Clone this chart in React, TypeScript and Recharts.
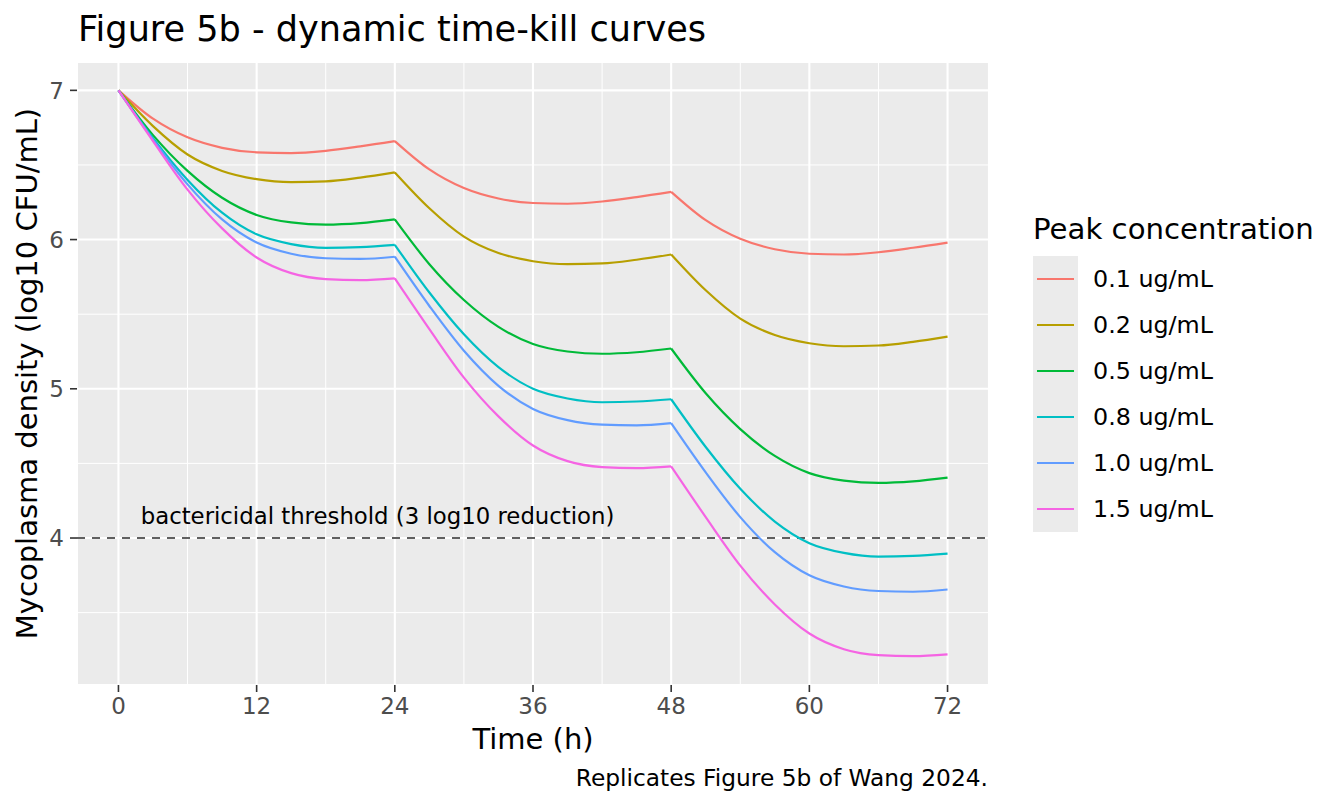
import {
  CartesianGrid,
  Legend,
  Line,
  LineChart,
  ReferenceDot,
  ReferenceLine,
  XAxis,
  YAxis
} from "recharts";

const FONT = "'DejaVu Sans', Verdana, sans-serif";

// hours after first dose, dosing every 24 h
const HOURS = [0, 3, 6, 9, 12, 15, 18, 21, 24, 27, 30, 33, 36, 39, 42, 45, 48, 51, 54, 57, 60, 63, 66, 69, 72];
const DOSE_TIMES = [0, 24, 48];
const DOSE_INTERVAL = 24;

// log10 CFU/mL
const CONC_01 = [7, 6.81, 6.685, 6.615, 6.585, 6.58, 6.595, 6.625, 6.66, 6.47, 6.345, 6.275, 6.245, 6.24, 6.255, 6.285, 6.32, 6.13, 6.005, 5.935, 5.905, 5.9, 5.915, 5.945, 5.98];
const CONC_02 = [7, 6.76, 6.57, 6.46, 6.405, 6.385, 6.39, 6.415, 6.45, 6.21, 6.02, 5.91, 5.855, 5.835, 5.84, 5.865, 5.9, 5.66, 5.47, 5.36, 5.305, 5.285, 5.29, 5.315, 5.35];
const CONC_05 = [7, 6.7, 6.46, 6.28, 6.165, 6.115, 6.1, 6.11, 6.135, 5.835, 5.595, 5.415, 5.3, 5.25, 5.235, 5.245, 5.27, 4.97, 4.73, 4.55, 4.435, 4.385, 4.37, 4.38, 4.405];
const CONC_08 = [7, 6.68, 6.4, 6.18, 6.035, 5.97, 5.945, 5.95, 5.965, 5.645, 5.365, 5.145, 5.0, 4.935, 4.91, 4.915, 4.93, 4.61, 4.33, 4.11, 3.965, 3.9, 3.875, 3.88, 3.895];
const CONC_10 = [7, 6.67, 6.37, 6.135, 5.98, 5.905, 5.875, 5.87, 5.885, 5.555, 5.255, 5.02, 4.865, 4.79, 4.76, 4.755, 4.77, 4.44, 4.14, 3.905, 3.75, 3.675, 3.645, 3.64, 3.655];
const CONC_15 = [7, 6.66, 6.335, 6.075, 5.88, 5.775, 5.735, 5.728, 5.74, 5.4, 5.075, 4.815, 4.62, 4.515, 4.475, 4.468, 4.48, 4.14, 3.815, 3.555, 3.36, 3.255, 3.215, 3.208, 3.22];

const X_TICKS = [0, 12, 24, 36, 48, 60, 72];
const X_MINOR = [6, 18, 30, 42, 54, 66];
const Y_TICKS = [4, 5, 6, 7];
const Y_MINOR = [3.5, 4.5, 5.5, 6.5];

const THRESHOLD = 4;
const THRESHOLD_TEXT = "bactericidal threshold (3 log10 reduction)";

const SERIES = [
  { key: "c01", name: "0.1 ug/mL", color: "#F8766D", values: CONC_01 },
  { key: "c02", name: "0.2 ug/mL", color: "#B79F00", values: CONC_02 },
  { key: "c05", name: "0.5 ug/mL", color: "#00BA38", values: CONC_05 },
  { key: "c08", name: "0.8 ug/mL", color: "#00BFC4", values: CONC_08 },
  { key: "c10", name: "1.0 ug/mL", color: "#619CFF", values: CONC_10 },
  { key: "c15", name: "1.5 ug/mL", color: "#F564E3", values: CONC_15 },
];

// one column per series per dosing interval, so each interval gets its own smooth curve
// and the kink at every new dose stays sharp
const data = HOURS.map((h, i) => {
  const row: Record<string, number | null> = { hour: h };
  SERIES.forEach((s) => {
    DOSE_TIMES.forEach((d, k) => {
      row[`${s.key}_${k}`] = h >= d && h <= d + DOSE_INTERVAL ? s.values[i] : null;
    });
  });
  return row;
});

function scaleOf(axis: any) {
  const sc = axis?.scale;
  if (typeof sc === "function") return sc;
  if (sc && typeof sc.map === "function") return (v: number) => sc.map(v);
  return null;
}

const minorX = ({ xAxis }: any) => {
  const f = scaleOf(xAxis);
  return f ? X_MINOR.map((v) => f(v)) : [];
};
const minorY = ({ yAxis }: any) => {
  const f = scaleOf(yAxis);
  return f ? Y_MINOR.map((v) => f(v)) : [];
};

function LegendBox({ payload }: any) {
  const seen = new Set<string>();
  const items = (payload ?? []).filter((p: any) => {
    if (seen.has(p.value)) return false;
    seen.add(p.value);
    return true;
  });
  return (
    <div style={{ fontFamily: FONT, color: "#000" }}>
      <div style={{ fontSize: 29.2, lineHeight: "29px", height: 29, marginBottom: 12, whiteSpace: "nowrap" }}>
        Peak concentration
      </div>
      {items.map((p: any) => (
        <div key={p.value} style={{ display: "flex", alignItems: "center", height: 46 }}>
          <div style={{ width: 45, height: 46, background: "#EBEBEB", position: "relative" }}>
            <div style={{ position: "absolute", left: 4, width: 37, top: 22, height: 2, background: p.color }} />
          </div>
          <span style={{ marginLeft: 15, fontSize: 23.8, lineHeight: "24px", whiteSpace: "nowrap" }}>{p.value}</span>
        </div>
      ))}
    </div>
  );
}

const tickStyle = { fill: "#4D4D4D", fontSize: 23, fontFamily: FONT };
const tickLine = { stroke: "#333333", strokeWidth: 1.6 };

export default function App() {
  return (
    <div style={{ position: "absolute", left: 0, top: 0, width: 1344, height: 806, fontFamily: FONT, background: "#fff" }}>
      <LineChart
        width={1344}
        height={806}
        data={data}
        margin={{ top: 62, right: 355, bottom: 81, left: 17 }}
      >
        {/* panel background + minor grid */}
        <CartesianGrid
          fill="#EBEBEB"
          stroke="#FFFFFF"
          strokeWidth={1}
          verticalCoordinatesGenerator={minorX}
          horizontalCoordinatesGenerator={minorY}
        />
        {/* major grid */}
        <CartesianGrid stroke="#FFFFFF" strokeWidth={2.1} />
        <XAxis
          dataKey="hour"
          type="number"
          domain={[-3.6, 75.6]}
          allowDataOverflow
          ticks={X_TICKS}
          interval={0}
          height={40}
          axisLine={false}
          tickLine={tickLine}
          tickSize={7}
          tickMargin={6}
          tick={tickStyle}
        />
        <YAxis
          type="number"
          domain={[3.015, 7.19]}
          allowDataOverflow
          ticks={Y_TICKS}
          interval={0}
          width={60}
          axisLine={false}
          tickLine={tickLine}
          tickSize={7}
          tickMargin={6}
          tick={tickStyle}
        />
        <ReferenceLine y={THRESHOLD} stroke="#5F5F5F" strokeWidth={2.1} strokeDasharray="8 7" />
        <ReferenceDot
          x={22.5}
          y={4.15}
          r={0}
          fill="none"
          stroke="none"
          label={{ value: THRESHOLD_TEXT, position: "center", fill: "#000", fontSize: 22.8, fontFamily: FONT }}
        />
        {SERIES.flatMap((s) =>
          DOSE_TIMES.map((d, k) => (
            <Line
              key={`${s.key}_${k}`}
              type="monotone"
              dataKey={`${s.key}_${k}`}
              name={s.name}
              stroke={s.color}
              strokeWidth={2.2}
              dot={false}
              activeDot={false}
              legendType={k === 0 ? "line" : "none"}
              isAnimationActive={false}
            />
          ))
        )}
        <Legend
          layout="vertical"
          align="center"
          verticalAlign="middle"
          content={<LegendBox />}
          wrapperStyle={{ position: "absolute", left: 1033, top: 215, width: 300, height: 330 }}
        />
      </LineChart>

      {/* titles, ggplot style */}
      <div style={{ position: "absolute", left: 78, top: 11, fontSize: 35.1, lineHeight: "35px", color: "#000", whiteSpace: "nowrap" }}>
        Figure 5b - dynamic time-kill curves
      </div>
      <div style={{ position: "absolute", left: 77, top: 725, width: 912, textAlign: "center", fontSize: 29, lineHeight: "29px", color: "#000" }}>
        Time (h)
      </div>
      <div
        style={{
          position: "absolute",
          left: 26.5 - 350,
          top: 373.5 - 14.5,
          width: 700,
          height: 29,
          textAlign: "center",
          fontSize: 29,
          lineHeight: "29px",
          color: "#000",
          whiteSpace: "nowrap",
          transform: "rotate(-90deg)",
          transformOrigin: "center"
        }}
      >
        Mycoplasma density (log10 CFU/mL)
      </div>
      <div style={{ position: "absolute", left: 488, top: 766, width: 500, textAlign: "right", fontSize: 23.3, lineHeight: "23px", color: "#000", whiteSpace: "nowrap" }}>
        Replicates Figure 5b of Wang 2024.
      </div>
    </div>
  );
}
